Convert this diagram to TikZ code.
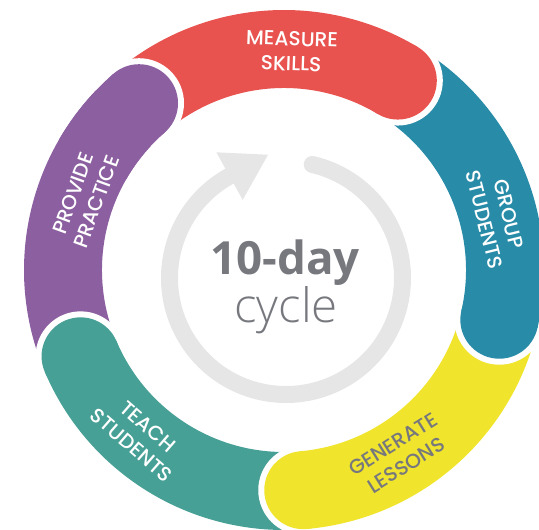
\documentclass[tikz,border=0pt]{standalone}
\usepackage{fontspec}
\IfFontExistsTF{Poppins Medium}{\setmainfont{Poppins Medium}}{\setmainfont{Poppins}}
\newfontfamily\hubfont{Open Sans}
\IfFontExistsTF{Open Sans Light}{\newfontfamily\hublight{Open Sans Light}}{\newfontfamily\hublight{Open Sans}}
\usetikzlibrary{arrows.meta}
\definecolor{M}{RGB}{232,83,79}
\definecolor{G}{RGB}{40,139,168}
\definecolor{L}{RGB}{240,228,45}
\definecolor{T}{RGB}{70,160,150}
\definecolor{P}{RGB}{140,96,160}
\definecolor{ring}{RGB}{230,230,230}
\definecolor{ink}{RGB}{118,120,126}
% one coloured band, ending in a round cap at angle #2
\newcommand{\drawband}[2]{
    \fill[white] (#2:221) circle (45);
    \draw[#1, line width=1.56cm] (#2+72:221) arc[start angle=#2+72, end angle=#2, radius=221];
    \fill[#1] (#2:221) circle (39);
}
\tikzset{
  steplabel/.style={text=white, font=\fontsize{11.5}{14.2}\selectfont, align=center, inner sep=0pt},
  hubword/.style={text=ink, anchor=base, inner sep=0pt}
}

\begin{document}
\begin{tikzpicture}[x=0.02cm,y=0.02cm]
\clip (-284,-260) rectangle (255,270);
\drawband{P}{-229}\drawband{T}{-157}\drawband{L}{-85}\drawband{G}{-13}\drawband{M}{59}
\begin{scope}
    \clip (0,0) -- (100:330) -- (150:330) -- cycle;
    \drawband{P}{-229}
\end{scope}
\coordinate (gc) at (2,-8);
\draw[ring, line width=0.34cm, line cap=round, -{Triangle[length=0.894cm,width=1.02cm]}]
    ([shift={(77:116.5)}]gc) arc[start angle=77, end angle=-241, radius=116.5] -- ++(29:44.7);
\node[steplabel, rotate=-2] (measure) at (88:219) {MEASURE\\SKILLS};
\node[steplabel, rotate=-76] (group) at (14:219) {GROUP\\STUDENTS};
\node[steplabel, rotate=32, text=ink] (generate) at (-58:218) {GENERATE\\LESSONS};
\node[steplabel, rotate=-41] (teach) at (-131:220) {TEACH\\STUDENTS};
\node[steplabel, rotate=70] (provide) at (160:212) {PROVIDE\\PRACTICE};
\node[hubword, font=\hubfont\bfseries\fontsize{26}{26}\selectfont] (tenday) at (1,-5) {10-day};
\node[hubword, font=\hublight\fontsize{27}{27}\selectfont] (cycle) at (2,-53) {cycle};
\end{tikzpicture}
\end{document}
